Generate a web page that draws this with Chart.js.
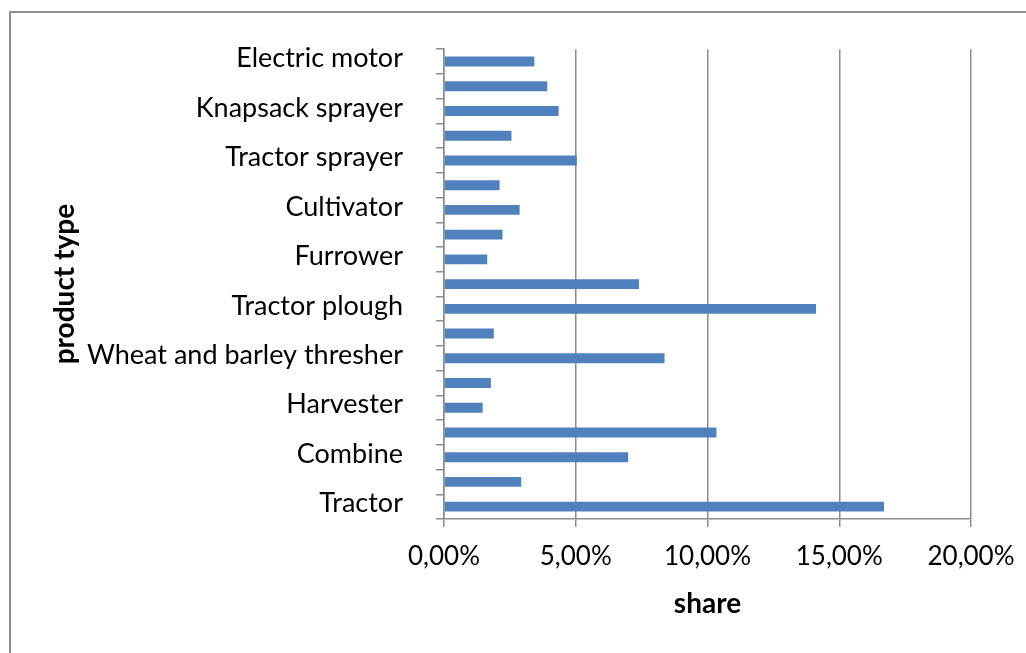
<!DOCTYPE html>
<html>
<head>
<meta charset="utf-8">
<script src="https://cdn.jsdelivr.net/npm/chart.js@4.4.0/dist/chart.umd.min.js"></script>
<style>
body{margin:0;background:#fff;}
#frame{position:absolute;left:9px;top:11px;width:1100px;height:700px;border-left:2px solid #8e8e8e;border-top:2px solid #8e8e8e;}
#wrap{position:absolute;left:0;top:0;width:1026px;height:653px;}
</style>
</head>
<body>
<div id="frame"></div>
<div id="wrap"><canvas id="Chart1" width="1026" height="653"></canvas></div>
<script>
// categories from top to bottom (Excel only printed every other label)
var categories = ['Electric motor', '', 'Knapsack sprayer', '', 'Tractor sprayer', '', 'Cultivator', '', 'Furrower', '',
    'Tractor plough', '', 'Wheat and barley thresher', '', 'Harvester', '', 'Combine', '', 'Tractor'];
var shares = [3.43, 3.92, 4.35, 2.56, 5.04, 2.11, 2.87, 2.22, 1.64, 7.40,
    14.12, 1.89, 8.37, 1.78, 1.47, 10.34, 6.99, 2.93, 16.70];
var xTicks = [0, 5, 10, 15, 20];

var fnt = "Lato, 'Open Sans', sans-serif";
var grey = '#8c8c8c';

window.onload = function () {
    buildchart();
}
function buildchart(){
    var ctx = document.getElementById('Chart1').getContext('2d');
    var chart = new Chart(ctx, {
        type: 'bar',
        data: {labels: categories, datasets: [{label: 'share', data: shares, backgroundColor: '#4f81bd', borderWidth: 0,
            barPercentage: 0.4, categoryPercentage: 1}]},
        options: {
            indexAxis: 'y',
            responsive: false,
            animation: false,
            devicePixelRatio: 1,
            layout: {padding: {left: 20, top: 44, right: 55, bottom: 0}},
            plugins: {legend: {display: false}, tooltip: {enabled: false}},
            scales: {
                x: {
                    min: 0, max: 20,
                    afterBuildTicks: function (s) { s.ticks = xTicks.map(function (v) { return {value: v}; }); },
                    afterFit: function (s) { s.height = 134; s.paddingRight = 0; s.paddingLeft = 0; },
                    grid: {color: grey, lineWidth: 1.5, tickLength: 8, drawTicks: true},
                    border: {display: true, color: grey, width: 1.5},
                    ticks: {color: '#000', padding: 14, font: {family: fnt, size: 26},
                        callback: function (v) { return v.toFixed(2).replace('.', ',') + '%'; }},
                    title: {display: true, text: 'share', color: '#000', font: {family: fnt, size: 28, weight: 'bold'},
                        padding: {top: 0, bottom: 32}}
                },
                y: {
                    afterFit: function (s) { s.width = 424; },
                    grid: {offset: true, drawOnChartArea: false, color: grey, lineWidth: 1.5, tickLength: 8},
                    border: {display: true, color: grey, width: 1.5},
                    ticks: {color: '#000', padding: 33, labelOffset: -3, autoSkip: false, font: {family: fnt, size: 27}},
                    title: {display: true, text: 'product type', color: '#000', font: {family: fnt, size: 28, weight: 'bold'},
                        padding: {top: 28, bottom: 0}}
                }
            }
        }
    });
}
</script>
</body>
</html>
